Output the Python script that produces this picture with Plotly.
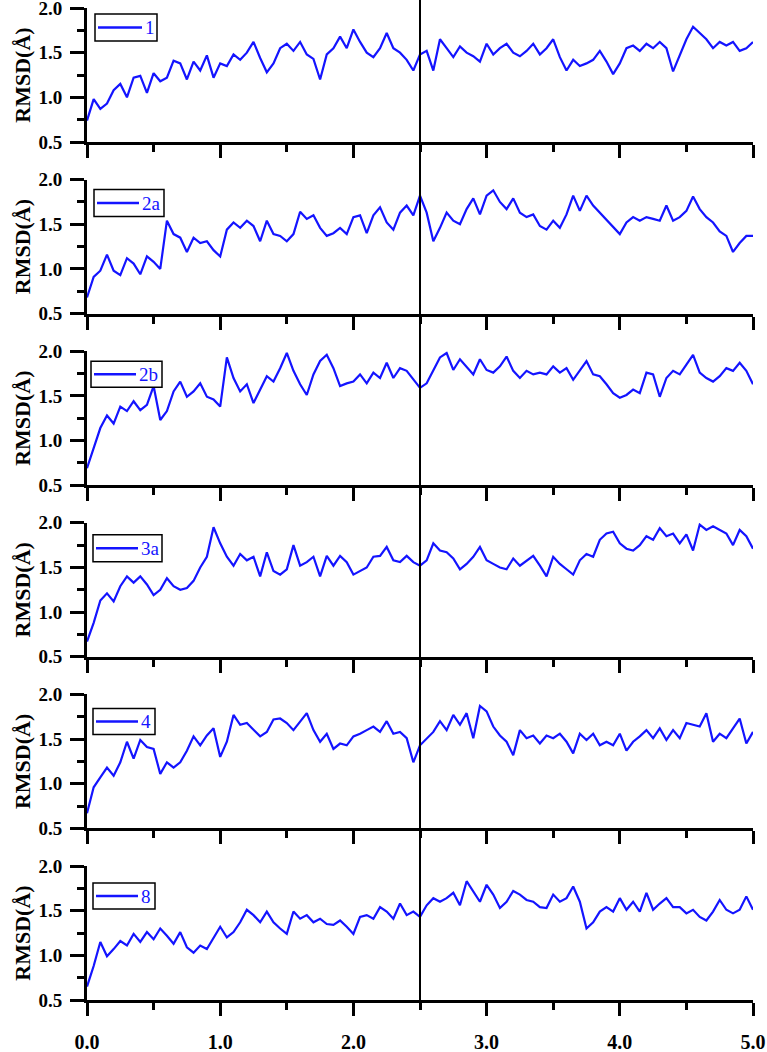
import plotly.graph_objects as go

# time axis (ns): 0.00 .. 5.00 step 0.05
time_ns = [round(i * 0.05, 2) for i in range(101)]

labels = ["1", "2a", "2b", "3a", "4", "8"]

rmsd_1 = [
    0.74, 0.98, 0.87, 0.93, 1.08, 1.15, 1.00, 1.22, 1.24, 1.05,
    1.27, 1.18, 1.22, 1.41, 1.38, 1.20, 1.40, 1.30, 1.47, 1.22,
    1.38, 1.35, 1.48, 1.42, 1.50, 1.62, 1.44, 1.28, 1.38, 1.55,
    1.60, 1.52, 1.62, 1.48, 1.43, 1.20, 1.48, 1.55, 1.68, 1.55,
    1.76, 1.62, 1.50, 1.45, 1.55, 1.72, 1.55, 1.50, 1.42, 1.30,
    1.48, 1.52, 1.30, 1.65, 1.55, 1.45, 1.57, 1.50, 1.46, 1.40,
    1.60, 1.48, 1.55, 1.60, 1.50, 1.46, 1.52, 1.60, 1.48, 1.55,
    1.65, 1.45, 1.30, 1.42, 1.35, 1.38, 1.42, 1.52, 1.40, 1.26,
    1.38, 1.55, 1.58, 1.52, 1.60, 1.55, 1.62, 1.55, 1.29, 1.48,
    1.65, 1.79, 1.72, 1.65, 1.55, 1.62, 1.58, 1.62, 1.52, 1.55,
    1.62,
]

rmsd_2a = [
    0.68, 0.91, 0.98, 1.16, 0.98, 0.93, 1.12, 1.06, 0.94, 1.14,
    1.08, 1.00, 1.54, 1.39, 1.35, 1.19, 1.35, 1.29, 1.31, 1.21,
    1.14, 1.44, 1.52, 1.46, 1.54, 1.48, 1.31, 1.54, 1.39, 1.37,
    1.31, 1.39, 1.64, 1.56, 1.60, 1.46, 1.37, 1.40, 1.46, 1.39,
    1.58, 1.60, 1.40, 1.60, 1.69, 1.52, 1.44, 1.63, 1.71, 1.60,
    1.82, 1.63, 1.31, 1.46, 1.63, 1.54, 1.50, 1.67, 1.79, 1.61,
    1.82, 1.88, 1.75, 1.67, 1.79, 1.63, 1.58, 1.61, 1.48, 1.44,
    1.54, 1.46, 1.61, 1.82, 1.65, 1.82, 1.71, 1.63, 1.56, 1.48,
    1.39, 1.52, 1.58, 1.54, 1.58, 1.56, 1.54, 1.71, 1.54, 1.58,
    1.65, 1.81, 1.67, 1.58, 1.52, 1.42, 1.37, 1.19, 1.29, 1.37,
    1.37,
]

rmsd_2b = [
    0.69, 0.91, 1.14, 1.28, 1.19, 1.38, 1.33, 1.44, 1.34, 1.40,
    1.61, 1.23, 1.33, 1.55, 1.66, 1.49, 1.55, 1.64, 1.49, 1.46,
    1.38, 1.93, 1.70, 1.55, 1.63, 1.42, 1.57, 1.72, 1.66, 1.81,
    1.98, 1.78, 1.63, 1.51, 1.74, 1.89, 1.96, 1.81, 1.61, 1.64,
    1.66, 1.74, 1.64, 1.76, 1.70, 1.87, 1.70, 1.81, 1.78, 1.68,
    1.59, 1.64, 1.78, 1.93, 1.98, 1.79, 1.91, 1.83, 1.74, 1.91,
    1.79, 1.76, 1.83, 1.94, 1.78, 1.70, 1.78, 1.74, 1.76, 1.74,
    1.83, 1.76, 1.81, 1.68, 1.78, 1.89, 1.74, 1.72, 1.63, 1.53,
    1.48, 1.51, 1.57, 1.53, 1.76, 1.74, 1.49, 1.70, 1.78, 1.74,
    1.85, 1.96, 1.76, 1.70, 1.66, 1.72, 1.81, 1.78, 1.87, 1.78,
    1.63,
]

rmsd_3a = [
    0.67, 0.88, 1.13, 1.21, 1.12, 1.29, 1.40, 1.33, 1.40, 1.31,
    1.19, 1.25, 1.38, 1.29, 1.25, 1.27, 1.35, 1.50, 1.62, 1.95,
    1.77, 1.62, 1.52, 1.65, 1.58, 1.62, 1.40, 1.67, 1.46, 1.42,
    1.48, 1.75, 1.52, 1.56, 1.62, 1.40, 1.63, 1.52, 1.63, 1.56,
    1.42, 1.46, 1.50, 1.62, 1.63, 1.73, 1.58, 1.56, 1.63, 1.56,
    1.52, 1.58, 1.77, 1.69, 1.67, 1.60, 1.48, 1.54, 1.62, 1.73,
    1.58, 1.54, 1.50, 1.48, 1.60, 1.52, 1.58, 1.63, 1.52, 1.40,
    1.62, 1.54, 1.48, 1.42, 1.58, 1.65, 1.62, 1.81, 1.88, 1.90,
    1.77, 1.71, 1.69, 1.75, 1.85, 1.81, 1.94, 1.85, 1.88, 1.77,
    1.87, 1.69, 1.98, 1.92, 1.96, 1.92, 1.88, 1.75, 1.92, 1.85,
    1.71,
]

rmsd_4 = [
    0.67, 0.96, 1.07, 1.18, 1.09, 1.24, 1.47, 1.28, 1.49, 1.41,
    1.39, 1.11, 1.24, 1.18, 1.24, 1.37, 1.53, 1.43, 1.54, 1.62,
    1.30, 1.47, 1.77, 1.66, 1.68, 1.60, 1.53, 1.58, 1.72, 1.73,
    1.68, 1.60, 1.70, 1.79, 1.60, 1.47, 1.56, 1.39, 1.45, 1.43,
    1.53, 1.56, 1.60, 1.64, 1.58, 1.70, 1.56, 1.58, 1.51, 1.24,
    1.43, 1.51, 1.58, 1.70, 1.60, 1.77, 1.66, 1.79, 1.51, 1.87,
    1.81, 1.64, 1.54, 1.47, 1.32, 1.60, 1.51, 1.54, 1.45, 1.54,
    1.51, 1.56, 1.47, 1.34, 1.56, 1.49, 1.56, 1.43, 1.47, 1.43,
    1.56, 1.37, 1.47, 1.53, 1.60, 1.51, 1.62, 1.49, 1.60, 1.51,
    1.68, 1.66, 1.64, 1.79, 1.47, 1.56, 1.51, 1.62, 1.73, 1.45,
    1.58,
]

rmsd_8 = [
    0.65, 0.88, 1.15, 0.99, 1.07, 1.16, 1.11, 1.24, 1.15, 1.26,
    1.18, 1.30, 1.22, 1.13, 1.26, 1.09, 1.03, 1.11, 1.07, 1.20,
    1.32, 1.20, 1.26, 1.37, 1.51, 1.45, 1.37, 1.49, 1.37, 1.30,
    1.24, 1.49, 1.41, 1.45, 1.37, 1.41, 1.35, 1.34, 1.39, 1.32,
    1.24, 1.43, 1.45, 1.41, 1.54, 1.49, 1.41, 1.58, 1.45, 1.49,
    1.43, 1.56, 1.64, 1.60, 1.64, 1.70, 1.56, 1.83, 1.72, 1.60,
    1.79, 1.68, 1.53, 1.60, 1.72, 1.68, 1.62, 1.60, 1.54, 1.53,
    1.68, 1.60, 1.64, 1.77, 1.60, 1.30, 1.37, 1.49, 1.54, 1.49,
    1.64, 1.51, 1.60, 1.49, 1.70, 1.51, 1.58, 1.64, 1.54, 1.54,
    1.47, 1.51, 1.43, 1.39, 1.49, 1.62, 1.51, 1.47, 1.51, 1.66,
    1.51,
]

series = [rmsd_1, rmsd_2a, rmsd_2b, rmsd_3a, rmsd_4, rmsd_8]

x_ticks = [0, 1, 2, 3, 4, 5]
x_ticktext = ["0.0", "1.0", "2.0", "3.0", "4.0", "5.0"]
y_ticks = [0.5, 1.0, 1.5, 2.0]
y_ticktext = ["0.5", "1.0", "1.5", "2.0"]
divider_x = 2.5

# ---- layout geometry (pixels) ----
W, H = 767, 1052
M_T, M_B, M_L, M_R = 8, 52, 87, 14
PW = W - M_L - M_R
PH = H - M_T - M_B
panel_top0, panel_h, panel_step = 8, 134, 171.6

# legend box geometry per panel: (left px, right px, top offset, bottom offset, line end px)
legend_geom = [
    (95, 157, 6, 33, 142),
    (94, 164, 10, 37, 139),
    (91, 162, 10, 36, 136),
    (93, 162, 12, 39, 138),
    (93, 155, 14, 40, 138),
    (93, 155, 17, 43, 138),
]

BLUE = "#1414ff"
SERIF = "Liberation Serif"


def fx(px):
    return (px - M_L) / PW


fig = go.Figure()
n = len(series)
for i, (lab, ys) in enumerate(zip(labels, series)):
    k = "" if i == 0 else str(i + 1)
    fig.add_trace(go.Scatter(
        x=time_ns, y=ys, mode="lines", name=lab,
        line=dict(color=BLUE, width=2.2),
        xaxis="x" + k, yaxis="y" + k, showlegend=False,
    ))

shapes = []
annotations = []
for i in range(n):
    k = "" if i == 0 else str(i + 1)
    top_px = panel_top0 + panel_step * i
    bot_px = top_px + panel_h
    d0 = (H - M_B - bot_px) / PH
    d1 = (H - M_B - top_px) / PH
    last = (i == n - 1)
    fig.layout["xaxis" + k] = dict(
        domain=[0, 1], anchor="y" + k, range=[0, 5], automargin=False,
        tickvals=x_ticks, ticktext=x_ticktext, showticklabels=last,
        ticklabeloverflow="allow", ticklabelstandoff=9,
        ticks="outside", ticklen=13, tickwidth=2.5, tickcolor="black",
        minor=dict(tickvals=[0.5, 1.5, 2.5, 3.5, 4.5], ticks="outside",
                   ticklen=7, tickwidth=2.5, tickcolor="black"),
        showline=True, linewidth=3, linecolor="black",
        showgrid=False, zeroline=False,
        tickfont=dict(family=SERIF, size=20, color="black", weight="bold"),
    )
    fig.layout["yaxis" + k] = dict(
        domain=[d0, d1], anchor="x" + k, range=[0.5, 2.0], automargin=False,
        tickvals=y_ticks, ticktext=y_ticktext, ticklabeloverflow="allow",
        ticklabelstandoff=4,
        ticks="outside", ticklen=14, tickwidth=2.5, tickcolor="black",
        minor=dict(tickvals=[0.75, 1.25, 1.75], ticks="outside",
                   ticklen=7, tickwidth=2.5, tickcolor="black"),
        showline=True, linewidth=3, linecolor="black",
        showgrid=False, zeroline=False,
        tickfont=dict(family=SERIF, size=19, color="black", weight="bold"),
        title=dict(text="RMSD(Å)", standoff=2,
                   font=dict(family=SERIF, size=22, color="black", weight="bold")),
    )
    # legend box (drawn in panel-domain coordinates)
    bl, br, bt, bb, le = legend_geom[i]
    yt = 1 - bt / panel_h
    yb = 1 - bb / panel_h
    ym = (yt + yb) / 2
    shapes.append(dict(type="rect", xref="x" + k + " domain", yref="y" + k + " domain",
                       x0=fx(bl), x1=fx(br), y0=yb, y1=yt,
                       line=dict(color="black", width=1.5), fillcolor="white", layer="above"))
    shapes.append(dict(type="line", xref="x" + k + " domain", yref="y" + k + " domain",
                       x0=fx(bl + 3), x1=fx(le), y0=ym, y1=ym,
                       line=dict(color=BLUE, width=2.5), layer="above"))
    annotations.append(dict(xref="x" + k + " domain", yref="y" + k + " domain",
                            x=fx(le + 1), y=ym, xanchor="left", yanchor="middle",
                            text=labels[i], showarrow=False,
                            font=dict(family=SERIF, size=19, color=BLUE)))

# vertical divider across all panels
shapes.append(dict(type="line", xref="x6", yref="paper",
                   x0=divider_x, x1=divider_x, y0=0, y1=(H - M_B) / PH,
                   line=dict(color="black", width=2)))

fig.update_layout(
    width=W, height=H,
    margin=dict(t=M_T, b=M_B, l=M_L, r=M_R, autoexpand=False),
    paper_bgcolor="white", plot_bgcolor="white",
    shapes=shapes, annotations=annotations,
)

fig.write_html("out.html", config={"displayModeBar": False},
               post_script="document.body.style.margin='0px';")
